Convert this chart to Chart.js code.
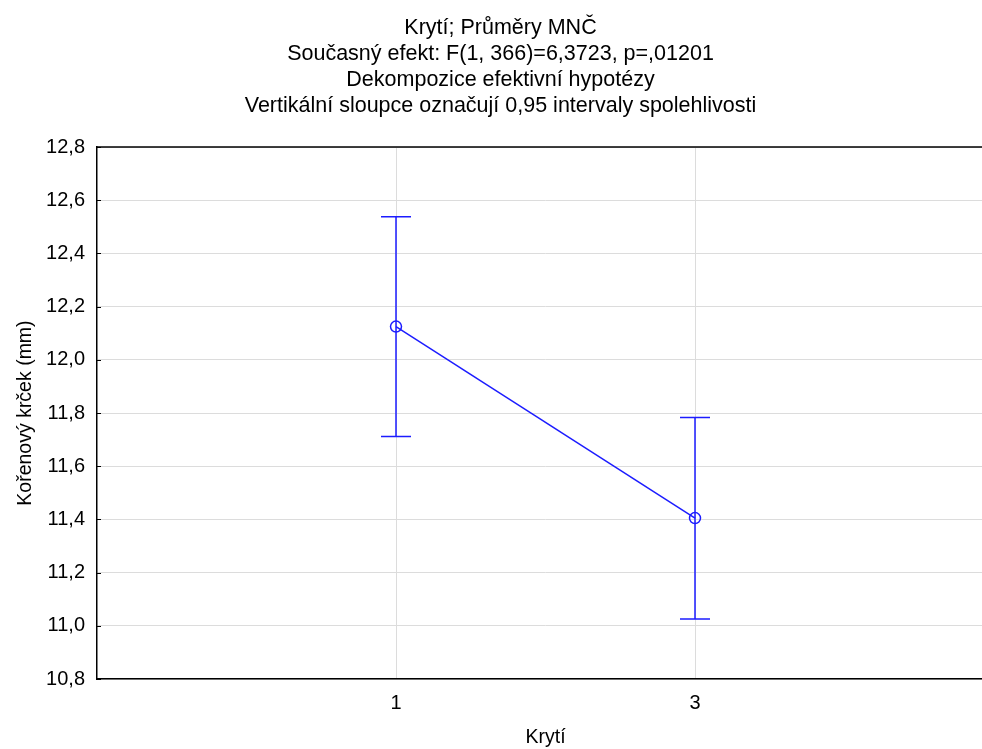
<!DOCTYPE html>
<html>
<head>
<meta charset="utf-8">
<title>Krytí; Průměry MNČ</title>
<script src="https://cdn.jsdelivr.net/npm/chart.js@4/dist/chart.umd.min.js"></script>
<style>
  html, body { margin: 0; padding: 0; background: #fff; overflow: hidden; }
  #wrap { width: 982px; height: 749px; overflow: hidden; }
  canvas { display: block; }
</style>
</head>
<body>
<div id="wrap"><canvas id="meansChart" width="1001" height="749"></canvas></div>
<script>
// means with 0.95 confidence intervals per level of "Krytí"
const categories = ['1', '3'];
const means = [12.125, 11.405];
const ciLow = [11.712, 11.026];
const ciHigh = [12.538, 11.783];

const yMin = 10.8, yMax = 12.8, yStep = 0.2;

const titleLines = [
  'Krytí; Průměry MNČ',
  'Současný efekt: F(1, 366)=6,3723, p=,01201',
  'Dekompozice efektivní hypotézy',
  'Vertikální sloupce označují 0,95 intervaly spolehlivosti'
];

const blue = 'rgb(28,28,255)';
const fontFamily = '"Liberation Sans", Arial, sans-serif';

// vertical CI whiskers with caps, drawn on top of the line
const errorBars = {
  id: 'errorBars',
  afterDatasetsDraw(chart) {
    const ctx = chart.ctx;
    const xs = chart.scales.x, ys = chart.scales.y;
    ctx.save();
    ctx.strokeStyle = blue;
    ctx.lineWidth = 1.5;
    for (let i = 0; i < means.length; i++) {
      const x = xs.getPixelForValue(i);
      const lo = ys.getPixelForValue(ciLow[i]);
      const hi = ys.getPixelForValue(ciHigh[i]);
      ctx.beginPath();
      ctx.moveTo(x, lo); ctx.lineTo(x, hi);
      ctx.moveTo(x - 15, lo); ctx.lineTo(x + 15, lo);
      ctx.moveTo(x - 15, hi); ctx.lineTo(x + 15, hi);
      ctx.stroke();
    }
    ctx.restore();
  }
};

// top frame line and the short inward ticks on the value axis
const frame = {
  id: 'frame',
  afterDraw(chart) {
    const ctx = chart.ctx;
    const a = chart.chartArea;
    const ys = chart.scales.y;
    ctx.save();
    ctx.strokeStyle = '#000';
    ctx.lineWidth = 1.5;
    ctx.beginPath();
    ctx.moveTo(a.left, a.top);
    ctx.lineTo(a.right, a.top);
    ctx.stroke();
    ctx.lineWidth = 1;
    ctx.beginPath();
    ys.ticks.forEach(t => {
      const y = Math.round(ys.getPixelForValue(t.value)) + 0.5;
      ctx.moveTo(a.left, y);
      ctx.lineTo(a.left + 4, y);
    });
    ctx.stroke();
    ctx.restore();
  }
};

new Chart(document.getElementById('meansChart'), {
  type: 'line',
  data: {
    datasets: [{
      data: means.map((m, i) => ({ x: i, y: m })),
      borderColor: blue,
      borderWidth: 1.5,
      backgroundColor: 'rgba(0,0,0,0)',
      pointRadius: 5.5,
      pointBorderWidth: 1.5,
      pointBorderColor: blue,
      pointBackgroundColor: 'rgba(0,0,0,0)',
      tension: 0
    }]
  },
  options: {
    responsive: false,
    animation: false,
    layout: { padding: 0 },
    plugins: {
      legend: { display: false },
      tooltip: { enabled: false },
      title: {
        display: true,
        text: titleLines,
        color: '#000',
        font: { family: fontFamily, size: 21.5, weight: 'normal', lineHeight: 1.21 },
        padding: { top: 15, bottom: 28 }
      }
    },
    scales: {
      x: {
        type: 'linear',
        min: -1,
        max: 2,
        afterBuildTicks(scale) {
          scale.ticks = categories.map((c, i) => ({ value: i }));
        },
        afterFit(scale) { scale.height = 70; },
        ticks: {
          color: '#000',
          padding: 12,
          font: { family: fontFamily, size: 20 },
          callback: v => categories[v] ?? ''
        },
        grid: { color: '#dcdcdc', lineWidth: 1, drawTicks: false },
        border: { color: '#000', width: 1.5 },
        title: {
          display: true,
          text: 'Krytí',
          color: '#000',
          font: { family: fontFamily, size: 19.5 },
          padding: { top: -6, bottom: 0 }
        }
      },
      y: {
        min: yMin,
        max: yMax,
        afterFit(scale) { scale.width = 97; },
        ticks: {
          stepSize: yStep,
          color: '#000',
          padding: 12,
          font: { family: fontFamily, size: 20 },
          callback: v => v.toFixed(1).replace('.', ',')
        },
        grid: { color: '#dcdcdc', lineWidth: 1, drawTicks: false },
        border: { color: '#000', width: 1.5 },
        title: {
          display: true,
          text: 'Kořenový krček (mm)',
          color: '#000',
          font: { family: fontFamily, size: 19.5 },
          padding: { top: 14, bottom: 0 }
        }
      }
    }
  },
  plugins: [errorBars, frame]
});
</script>
</body>
</html>
